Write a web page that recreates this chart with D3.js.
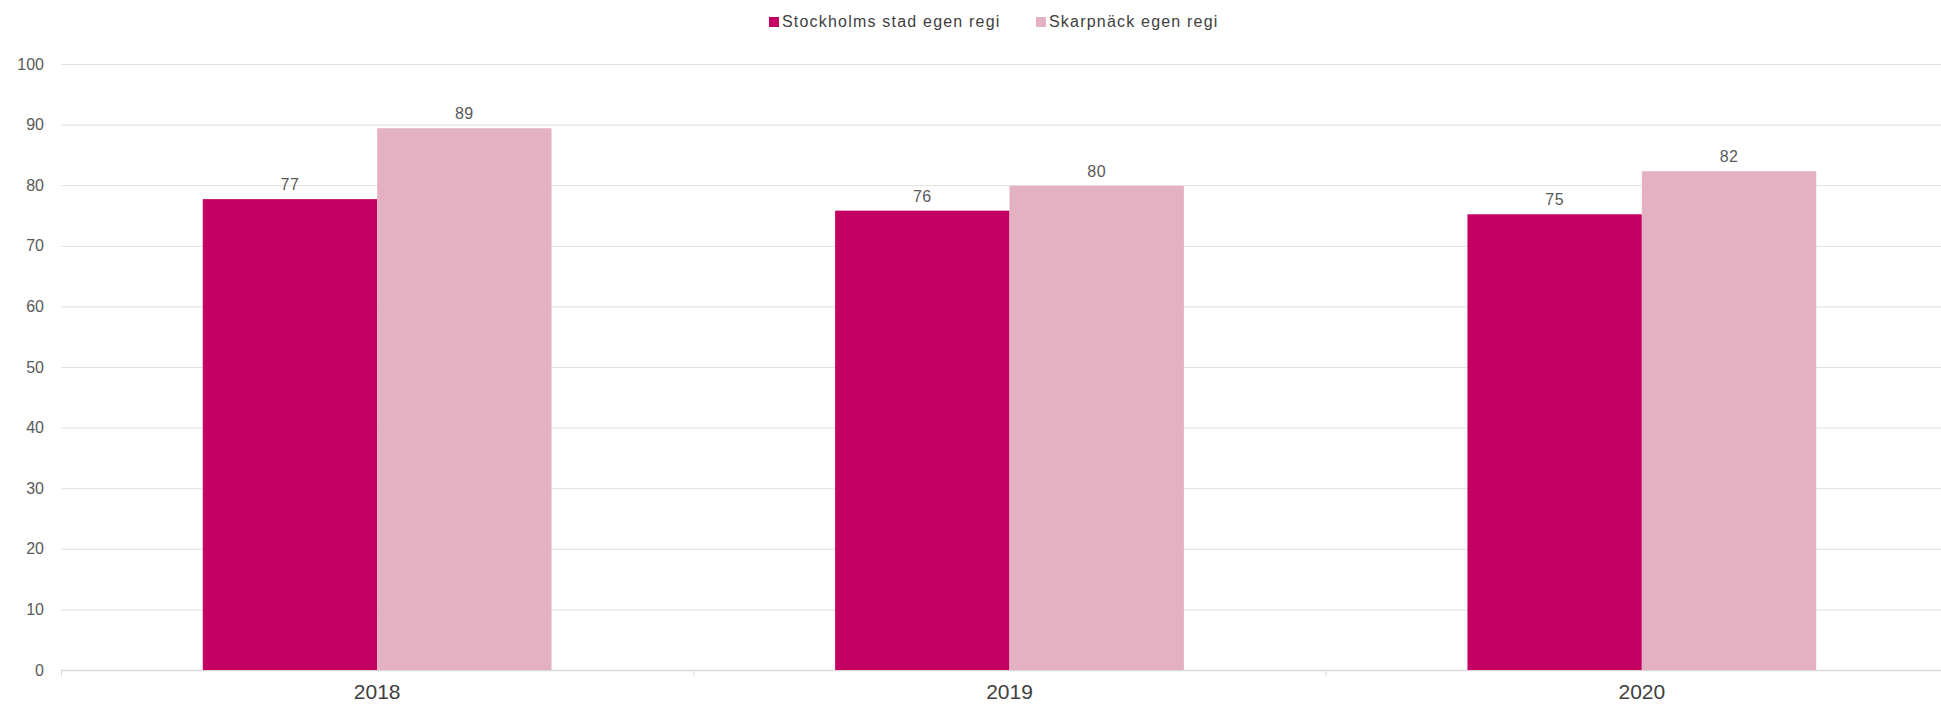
<!DOCTYPE html>
<html>
<head>
<meta charset="utf-8">
<script src="https://cdn.jsdelivr.net/npm/d3@7"></script>
<style>
  html, body { margin: 0; padding: 0; background: #fff; overflow: hidden; }
  svg { display: block; font-family: "Liberation Sans", Arial, sans-serif; }
</style>
</head>
<body>
<div id="chart"></div>
<script>
// data
var years = ["2018", "2019", "2020"];
var seriesNames = ["Stockholms stad egen regi", "Skarpnäck egen regi"];
var stockholm = [77.7, 75.8, 75.2];
var skarpnack = [89.4, 79.9, 82.3];
var stockholmLabels = ["77", "76", "75"];
var skarpnackLabels = ["89", "80", "82"];
var yTicks = [0, 10, 20, 30, 40, 50, 60, 70, 80, 90, 100];
var colors = ["#c40062", "#e3b1c1"];

var width = 1941, height = 707;
var plotLeft = 61, plotRight = 1958, plotTop = 64, plotBottom = 670;

var svg = d3.select("#chart").append("svg")
    .attr("width", width)
    .attr("height", height);

var x = d3.scaleBand()
    .domain(years)
    .range([plotLeft, plotRight])
    .paddingInner(0)
    .paddingOuter(0);

// two bars side by side in the middle of each year
var x1 = d3.scaleBand()
    .domain([0, 1])
    .range([0, x.bandwidth()])
    .paddingOuter(0.813)
    .paddingInner(0);

var y = d3.scaleLinear()
    .domain([0, 100])
    .range([plotBottom, plotTop]);

// gridlines
svg.append("g")
    .selectAll("line")
    .data(yTicks)
    .enter()
    .append("line")
    .attr("x1", plotLeft)
    .attr("x2", width)
    .attr("y1", function (d) { return y(d) + 0.5; })
    .attr("y2", function (d) { return y(d) + 0.5; })
    .attr("stroke", function (d) { return d === 0 ? "#d9d9d9" : "#e0e0e0"; })
    .attr("stroke-width", function (d) { return d === 0 ? 1.5 : 1; });

// y axis labels
var yAxis = svg.append("g")
    .attr("transform", "translate(" + plotLeft + ",0)")
    .call(d3.axisLeft(y).tickValues(yTicks).tickSize(0).tickPadding(17));
yAxis.select(".domain").remove();
yAxis.selectAll("text")
    .attr("font-size", "16px")
    .attr("font-family", "Liberation Sans, Arial, sans-serif")
    .attr("fill", "#595959");

// x axis
var xAxis = svg.append("g")
    .attr("transform", "translate(0," + plotBottom + ")")
    .call(d3.axisBottom(x).tickSize(0).tickPadding(14));
xAxis.select(".domain").remove();
xAxis.selectAll("text")
    .attr("font-size", "21px")
    .attr("font-family", "Liberation Sans, Arial, sans-serif")
    .attr("fill", "#404040");

// category separators
svg.append("g")
    .selectAll("line")
    .data(years)
    .enter()
    .append("line")
    .attr("x1", function (d) { return x(d) + 0.5; })
    .attr("x2", function (d) { return x(d) + 0.5; })
    .attr("y1", plotBottom)
    .attr("y2", plotBottom + 6)
    .attr("stroke", "#d9d9d9");

var series = [
    { name: seriesNames[0], values: stockholm, labels: stockholmLabels },
    { name: seriesNames[1], values: skarpnack, labels: skarpnackLabels }
];

series.forEach(function (s, si) {
    var g = svg.append("g");
    g.selectAll("rect")
        .data(years)
        .enter()
        .append("rect")
        .attr("x", function (d) { return x(d) + x1(si); })
        .attr("width", x1.bandwidth())
        .attr("y", function (d, i) { return y(s.values[i]); })
        .attr("height", function (d, i) { return plotBottom - y(s.values[i]); })
        .attr("fill", colors[si]);

    g.selectAll("text")
        .data(years)
        .enter()
        .append("text")
        .text(function (d, i) { return s.labels[i]; })
        .attr("x", function (d) { return x(d) + x1(si) + x1.bandwidth() / 2; })
        .attr("y", function (d, i) { return y(s.values[i]) - 9; })
        .attr("text-anchor", "middle")
        .attr("font-size", "16px")
        .attr("letter-spacing", "0.5px")
        .attr("fill", "#595959");
});

// legend
var legendItems = [
    { name: seriesNames[0], color: colors[0], x: 769 },
    { name: seriesNames[1], color: colors[1], x: 1036 }
];
var legend = svg.append("g");
legendItems.forEach(function (d) {
    legend.append("rect")
        .attr("x", d.x)
        .attr("y", 17)
        .attr("width", 10)
        .attr("height", 10)
        .attr("fill", d.color);
    legend.append("text")
        .text(d.name)
        .attr("x", d.x + 13)
        .attr("y", 27)
        .attr("font-size", "16px")
        .attr("letter-spacing", "1.2px")
        .attr("fill", "#404040");
});
</script>
</body>
</html>
